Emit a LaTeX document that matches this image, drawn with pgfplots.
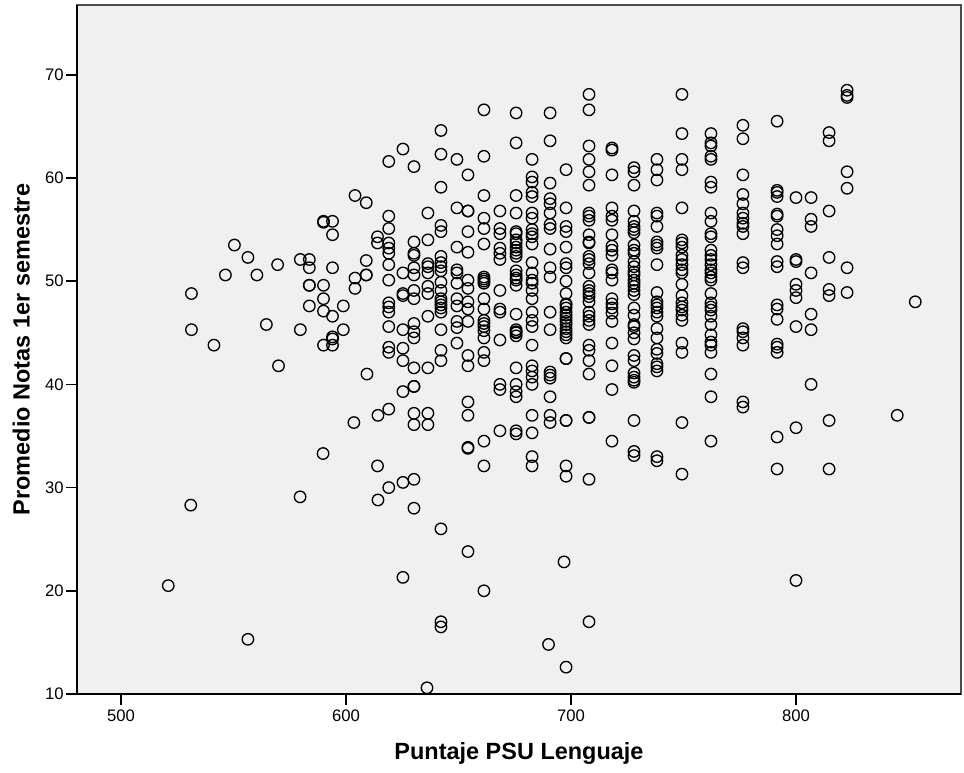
\documentclass[border=0pt]{standalone}
\usepackage{pgfplots}
\pgfplotsset{compat=1.18}
\usepackage{fontspec}
\setmainfont{Liberation Sans}
\definecolor{plotbg}{HTML}{F0F0F0}
\begin{document}
\begin{tikzpicture}
\begin{axis}[
    scale only axis,
    width=663pt,
    height=516.75pt,
    xmin=480.44, xmax=873.33,
    ymin=10, ymax=76.76,
    axis x line=bottom,
    axis y line=left,
    axis line style={-, black, line width=1.4pt},
    axis background/.style={fill=plotbg, draw=black!70, line width=0.9pt},
    xtick={500,600,700,800},
    ytick={10,20,30,40,50,60,70},
    tick align=outside,
    major tick length=8pt,
    tick style={black, line width=1.2pt},
    clip=false,
    /pgf/number format/assume math mode=true,
    ticklabel style={font=\fontsize{12.5}{14}\selectfont},
    xlabel={Puntaje PSU Lenguaje},
    ylabel={Promedio Notas 1er semestre},
    label style={font=\fontsize{17.6}{20}\selectfont\bfseries},
    xlabel style={yshift=-9.5pt},
    ylabel style={yshift=4.5pt},
    y tick label style={xshift=1.5pt},
]
\addplot[only marks, mark=o, mark size=4.3pt, mark options={draw=black, line width=1pt}] coordinates {
  % left tail
  (521,20.5) (531.3,48.8) (531.3,45.3) (531,28.3) (541.3,43.8) (546.4,50.6) (550.4,53.5)
  (556.4,52.3) (556.4,15.3) (560.4,50.6) (564.6,45.8) (569.6,51.6) (570,41.8)
  (579.7,52.1) (579.7,45.3) (579.6,29.1)
  (583.7,52.1) (583.7,51.3) (583.7,49.6) (583.7,49.6) (583.7,47.6)
  (590,55.8) (590,55.7) (590,49.6) (590,48.3) (590,47.1) (590,43.8) (589.8,33.3)
  (594,55.8) (594,54.5) (594,51.3) (594,46.6) (594,44.6) (594,44.4) (594,43.8)
  (598.8,47.6) (598.8,45.3)
  (604,58.3) (604,50.3) (604,49.3) (603.5,36.3)
  (609,57.6) (609,52) (609,50.6) (609,50.6) (609.3,41)
  (614,54.3) (614,53.7) (614.2,37) (614,32.1) (614.2,28.8)
  % 619
  (619,61.6) (619,56.3) (619,55.1) (619,53.7) (619,53.2) (619,52.7) (619,51.6) (619,50.1) (619,47.9)
  (619,47.5) (619,47) (619,45.6) (619,43.6) (619,43.1) (619,37.6) (619,30)
  % 625
  (625.3,62.8) (625.3,50.8) (625.3,48.8) (625.3,48.6) (625.3,45.3) (625.3,43.5) (625.3,42.3) (625.3,39.3) (625.3,30.5) (625.3,21.3)
  % 630
  (630.2,61.1) (630.2,53.8) (630.2,52.7) (630.2,52.5) (630.2,51.3) (630.2,50.6) (630.2,49.1) (630.2,48.3)
  (630.2,45.9) (630.2,45.1) (630.2,44.5) (630.2,41.6) (630.2,39.8) (630.2,39.8) (630.2,37.2) (630.2,36.1) (630.2,30.8) (630.2,28)
  % 636
  (636.4,56.6) (636.4,54) (636.4,51.7) (636.4,51.4) (636.4,50.8) (636.4,49.5) (636.4,48.8) (636.4,46.6) (636.4,41.6) (636.4,37.2) (636.4,36.1) (636,10.6)
  % 642
  (642.2,64.6) (642.2,62.3) (642.2,59.1) (642.2,55.4) (642.2,54.8) (642.2,52.4) (642.2,51.8) (642.2,51.4) (642.2,51) (642.2,49.9)
  (642.2,49.1) (642.2,48.3) (642.2,48) (642.2,47.7) (642.2,47.4) (642.2,47) (642.2,45.3) (642.2,43.3) (642.2,42.3) (642.2,26) (642.2,17) (642.2,16.5)
  % 649
  (649.3,61.8) (649.3,57.1) (649.3,53.3) (649.3,51.1) (649.3,50.8) (649.3,49.8) (649.3,48.3) (649.3,47.6) (649.3,46.1) (649.3,45.5) (649.3,44)
  % 654
  (654.2,60.3) (654.2,56.8) (654.2,56.8) (654.2,54.8) (654.2,52.8) (654.2,50.1) (654.2,49.3) (654.2,48) (654.2,47.3) (654.2,46.1)
  (654.2,42.8) (654.2,41.8) (654.2,38.3) (654.2,37) (654.2,33.9) (654.2,33.8) (654.2,23.8)
  % 661
  (661.3,66.6) (661.3,62.1) (661.3,58.3) (661.3,56.1) (661.3,55.1) (661.3,53.6) (661.3,50.4) (661.3,50.2) (661.3,50) (661.3,49.8)
  (661.3,48.3) (661.3,47.3) (661.3,46.2) (661.3,45.9) (661.3,45.6) (661.3,45.2) (661.3,44.5) (661.3,43.1) (661.3,42.3) (661.3,34.5) (661.3,32.1) (661.3,20)
  % 668
  (668.4,56.8) (668.4,55.1) (668.4,54.6) (668.4,53.2) (668.4,52.7) (668.4,52.1) (668.4,49.1) (668.4,47.3) (668.4,47)
  (668.4,44.3) (668.4,40) (668.4,39.5) (668.4,35.5)
  % 675
  (675.6,66.3) (675.6,63.4) (675.6,58.3) (675.6,56.6) (675.6,54.8) (675.6,54.6) (675.6,54) (675.6,53.7) (675.6,53.3) (675.6,53)
  (675.6,52.7) (675.6,52.4) (675.6,51) (675.6,50.6) (675.6,50.3) (675.6,50.1) (675.6,49.6) (675.6,46.8) (675.6,45.3) (675.6,45.1)
  (675.6,45) (675.6,44.7) (675.6,41.6) (675.6,40) (675.6,39.3) (675.6,38.8) (675.6,35.5) (675.6,35.2)
  % 683
  (682.7,61.8) (682.7,60.1) (682.7,59.6) (682.7,58.6) (682.7,58.2) (682.7,56.6) (682.7,56.1) (682.7,55) (682.7,54.6) (682.7,54.3)
  (682.7,53.6) (682.7,51.8) (682.7,50.8) (682.7,50.1) (682.7,49.8) (682.7,49.1) (682.7,48.3) (682.7,47) (682.7,46.2) (682.7,45.6)
  (682.7,43.8) (682.7,41.8) (682.7,41.3) (682.7,40.7) (682.7,40) (682.7,37) (682.7,35.3) (682.7,33) (682.7,32.1)
  % 691
  (690.7,66.3) (690.7,63.6) (690.7,59.5) (690.7,58) (690.7,57.5) (690.7,56.6) (690.7,55.5) (690.7,55.1) (690.7,53.1) (690.7,51.3)
  (690.7,50.4) (690.7,47) (690.7,45.3) (690.7,41.2) (690.7,40.9) (690.7,40.6) (690.7,38.8) (690.7,37) (690.7,36.3) (690,14.8)
  % 698
  (697.8,60.8) (697.8,57.1) (697.8,55.3) (697.8,54.8) (697.8,53.3) (697.8,51.7) (697.8,51.3) (697.8,50) (697.8,48.8) (697.8,47.8)
  (697.8,47.7) (697.8,47.4) (697.8,47) (697.8,46.7) (697.8,46.4) (697.8,46.1) (697.8,45.8) (697.8,45.4) (697.8,45.1) (697.8,44.8)
  (697.8,44.5) (697.8,42.5) (697.8,42.5) (697.8,36.5) (697.8,36.5) (697.8,32.1) (697.8,31.1) (696.9,22.8) (697.8,12.6)
  % 708
  (708,68.1) (708,66.6) (708,63.1) (708,61.8) (708,60.6) (708,59.3) (708,56.6) (708,56.3) (708,55.9) (708,54.5) (708,53.8) (708,53.7)
  (708,52.4) (708,52.1) (708,51.7) (708,50.8) (708,49.5) (708,49.1) (708,48.8) (708,48.5) (708,48) (708,47) (708,46.6) (708,46.2)
  (708,45.8) (708,43.8) (708,43.3) (708,42.3) (708,41) (708,36.8) (708,36.8) (708,30.8) (708,17)
  % 718
  (718.2,62.9) (718.2,62.7) (718.2,60.3) (718.2,57.1) (718.2,56.3) (718.2,55.9) (718.2,54.5) (718.2,53.4) (718.2,53) (718.2,52.5)
  (718.2,51.1) (718.2,50.8) (718.2,50.1) (718.2,48.3) (718.2,47.8) (718.2,47.4) (718.2,46.9) (718.2,46.1) (718.2,44) (718.2,41.8) (718.2,39.5) (718.2,34.5)
  % 728
  (728,61) (728,60.6) (728,59.3) (728,56.8) (728,55.8) (728,55.3) (728,55) (728,54.7) (728,53.5) (728,53) (728,52.7) (728,51.9)
  (728,51.4) (728,50.9) (728,50.6) (728,50.1) (728,49.8) (728,49.5) (728,49.1) (728,48.7) (728,47.4) (728,46.7) (728,45.8) (728,45.6)
  (728,45) (728,44.4) (728,42.8) (728,42.3) (728,41.1) (728,40.7) (728,40.4) (728,40.2) (728,36.5) (728,33.5) (728,33.1)
  % 738
  (738.2,61.8) (738.2,60.8) (738.2,59.8) (738.2,56.6) (738.2,56.3) (738.2,55.3) (738.2,53.8) (738.2,53.5) (738.2,53.2) (738.2,51.6)
  (738.2,48.9) (738.2,48) (738.2,47.7) (738.2,47.4) (738.2,47) (738.2,46.6) (738.2,45.4) (738.2,44.5) (738.2,43.4) (738.2,43) (738.2,42)
  (738.2,41.7) (738.2,41.3) (738.2,33) (738.2,32.6)
  % 749
  (749.3,68.1) (749.3,64.3) (749.3,61.8) (749.3,60.8) (749.3,57.1) (749.3,54) (749.3,53.7) (749.3,53.3) (749.3,52.5) (749.3,52.1)
  (749.3,51.6) (749.3,51.1) (749.3,50.8) (749.3,49.7) (749.3,48.6) (749.3,47.9) (749.3,47.5) (749.3,47.2) (749.3,46.7) (749.3,46.2)
  (749.3,44) (749.3,43.1) (749.3,36.3) (749.3,31.3)
  % 762
  (762.2,64.3) (762.2,63.4) (762.2,63.1) (762.2,62.1) (762.2,61.8) (762.2,59.6) (762.2,59.1) (762.2,56.6) (762.2,55.8) (762.2,54.6)
  (762.2,54.3) (762.2,53) (762.2,52.5) (762.2,52.1) (762.2,51.6) (762.2,51.1) (762.2,50.8) (762.2,50.4) (762.2,50.1) (762.2,48.8)
  (762.2,47.9) (762.2,47.5) (762.2,47.2) (762.2,46.6) (762.2,45.8) (762.2,44.8) (762.2,44.1) (762.2,43.8) (762.2,43.1) (762.2,41) (762.2,38.8) (762.2,34.5)
  % 776
  (776.4,65.1) (776.4,63.8) (776.4,60.3) (776.4,58.4) (776.4,57.5) (776.4,56.6) (776.4,56.1) (776.4,55.6) (776.4,55.3) (776.4,54.6)
  (776.4,51.8) (776.4,51.3) (776.4,45.4) (776.4,45.1) (776.4,44.5) (776.4,43.8) (776.4,38.3) (776.4,37.8)
  % 791
  (791.6,65.5) (791.6,58.8) (791.6,58.6) (791.6,58.2) (791.6,56.5) (791.6,56.3) (791.6,55) (791.6,54.4) (791.6,53.6) (791.6,51.9)
  (791.6,51.4) (791.6,47.7) (791.6,47.3) (791.6,46.3) (791.6,43.9) (791.6,43.6) (791.6,43.1) (791.6,34.9) (791.6,31.8)
  % right tail
  (800,58.1) (800,52.1) (800,51.9) (800,49.7) (800,49.1) (800,48.4) (800,45.6) (800,35.8) (800,21)
  (806.7,58.1) (806.7,56) (806.7,55.3) (806.7,50.8) (806.7,46.8) (806.7,45.3) (806.7,40)
  (814.7,64.4) (814.7,63.6) (814.7,56.8) (814.7,52.3) (814.7,49.2) (814.7,48.6) (814.7,36.5) (814.7,31.8)
  (822.7,68.5) (822.7,68) (822.7,67.8) (822.7,60.6) (822.7,59) (822.7,51.3) (822.7,48.9)
  (845,37) (853,48)
};
\end{axis}
\path[use as bounding box] (-57.75pt,-59.25pt) rectangle (665.25pt,520.5pt);
\end{tikzpicture}
\end{document}
